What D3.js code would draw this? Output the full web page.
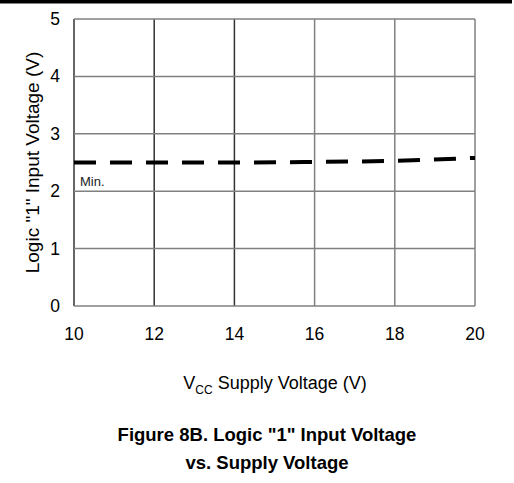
<!DOCTYPE html>
<html>
<head>
<meta charset="utf-8">
<script src="https://cdn.jsdelivr.net/npm/d3@7"></script>
<style>
  body { margin: 0; background: #fff; }
  svg text { font-family: "Liberation Sans", Arial, sans-serif; }
</style>
</head>
<body>
<div id="chart"></div>
<script>
// Figure 8B data: minimum logic "1" input voltage vs supply voltage
var vcc = [10, 12, 14, 16, 18, 20];
var vihMin = [2.5, 2.5, 2.5, 2.51, 2.53, 2.58];
var xTicks = [10, 12, 14, 16, 18, 20];
var yTicks = [0, 1, 2, 3, 4, 5];

var width = 514, height = 483;
var margin = {top: 19, right: 39, bottom: 177, left: 74};

var svg = d3.select("#chart").append("svg")
    .attr("width", width)
    .attr("height", height);

// heavy rule across the top of the page
svg.append("rect")
    .attr("x", 0).attr("y", 0)
    .attr("width", 512).attr("height", 3.5)
    .attr("fill", "#000");

var xScale = d3.scaleLinear().domain([10, 20]).range([margin.left, width - margin.right]);
var yScale = d3.scaleLinear().domain([0, 5]).range([height - margin.bottom, margin.top]);

var g = svg.append("g");

// grid
g.selectAll(".vgrid").data(xTicks).enter().append("line")
    .attr("x1", function(d) { return xScale(d); })
    .attr("x2", function(d) { return xScale(d); })
    .attr("y1", yScale(0)).attr("y2", yScale(5))
    .attr("stroke", function(d, i) { return i < 3 ? "#333" : "#808080"; })
    .attr("stroke-width", 1.5);

g.selectAll(".hgrid").data(yTicks).enter().append("line")
    .attr("x1", xScale(10)).attr("x2", xScale(20))
    .attr("y1", function(d) { return yScale(d); })
    .attr("y2", function(d) { return yScale(d); })
    .attr("stroke", "#808080")
    .attr("stroke-width", 1.5);

// tick labels
g.selectAll(".xlab").data(xTicks).enter().append("text")
    .attr("x", function(d) { return xScale(d); })
    .attr("y", 340)
    .attr("text-anchor", "middle")
    .attr("font-size", 17.5)
    .text(function(d) { return d; });

g.selectAll(".ylab").data(yTicks).enter().append("text")
    .attr("x", 60)
    .attr("y", function(d) { return yScale(d) + 6; })
    .attr("text-anchor", "end")
    .attr("font-size", 17.5)
    .text(function(d) { return d; });

// the min curve, heavy dashes
var line = d3.line()
    .x(function(d, i) { return xScale(vcc[i]); })
    .y(function(d) { return yScale(d); })
    .curve(d3.curveMonotoneX);

g.append("path")
    .datum(vihMin)
    .attr("d", line)
    .attr("fill", "none")
    .attr("stroke", "#000")
    .attr("stroke-width", 4)
    .attr("stroke-dasharray", "22,14");

g.append("text")
    .attr("x", 80).attr("y", 186)
    .attr("font-size", 13)
    .attr("fill", "#222")
    .text("Min.");

// axis titles
var yt = svg.append("text")
    .attr("transform", "translate(39," + yScale(2.5) + ") rotate(-90)")
    .attr("text-anchor", "middle")
    .attr("font-size", 19);
yt.text('Logic "1" Input Voltage (V)');

var xt = svg.append("text")
    .attr("x", 275).attr("y", 389)
    .attr("text-anchor", "middle")
    .attr("font-size", 18);
xt.append("tspan").text("V");
xt.append("tspan").attr("font-size", 12).attr("dy", 5).text("CC");
xt.append("tspan").attr("dy", -5).text(" Supply Voltage (V)");

// caption
var cap = ['Figure 8B. Logic "1" Input Voltage', 'vs. Supply Voltage'];
svg.selectAll(".cap").data(cap).enter().append("text")
    .attr("x", 267)
    .attr("y", function(d, i) { return 441 + i * 28; })
    .attr("text-anchor", "middle")
    .attr("font-size", 18.5)
    .attr("font-weight", "bold")
    .style("font-family", '"Liberation Sans Narrow", "Liberation Sans", Arial, sans-serif')
    .text(function(d) { return d; });
</script>
</body>
</html>
